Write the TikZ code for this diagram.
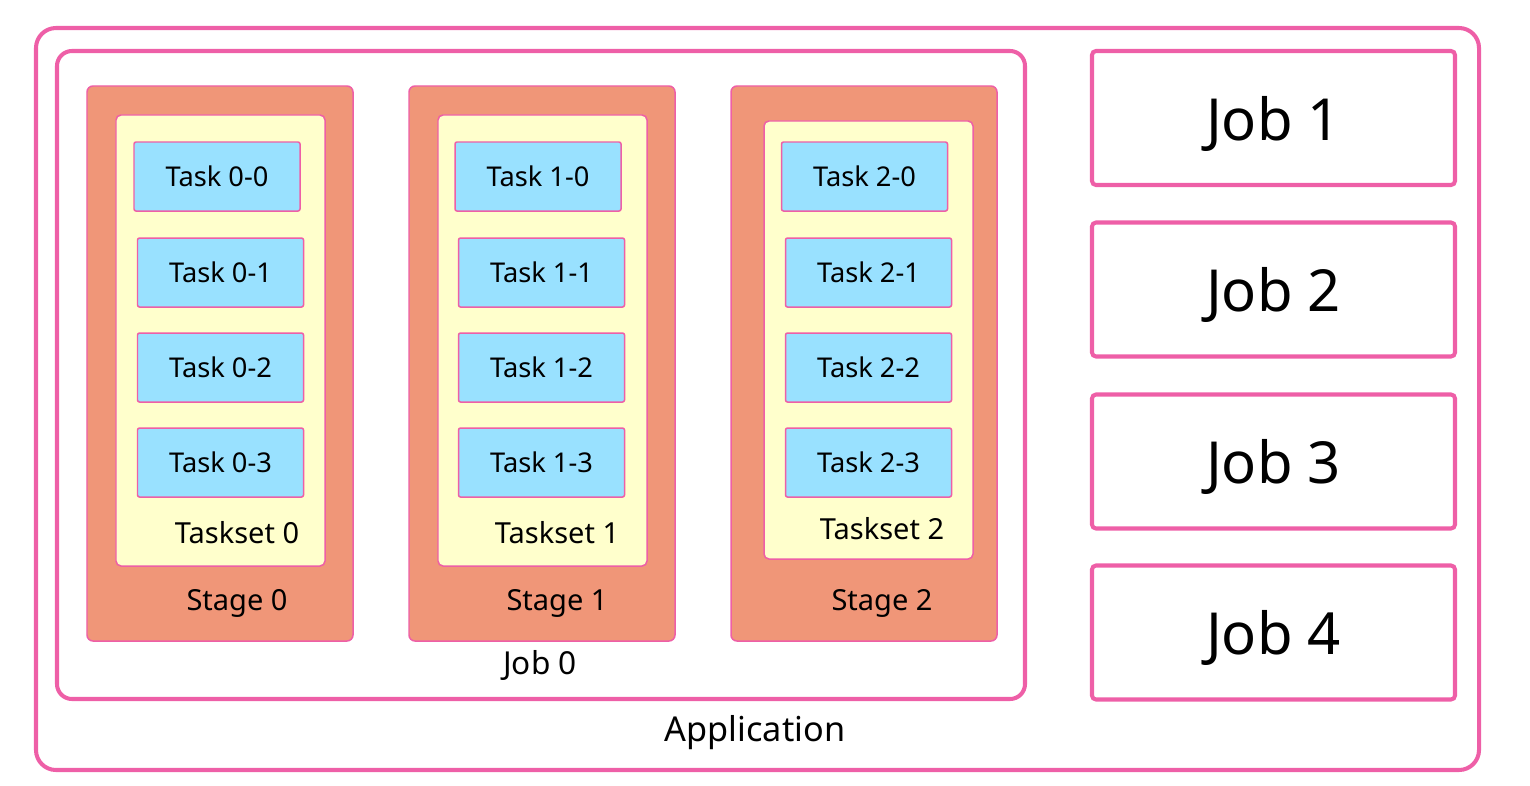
\documentclass[tikz,border=0pt]{standalone}
\usepackage{fontspec}
\setmainfont{Noto Sans}
\usepackage{xcolor}

\definecolor{rimpink}{HTML}{EE5FA7}
\definecolor{stagefill}{HTML}{F09678}
\definecolor{tasksetfill}{HTML}{FFFFCC}
\definecolor{taskfill}{HTML}{99E1FF}

\begin{document}
\begin{tikzpicture}[x=0.2mm, y=-0.2mm]
        % Box style definitions
        \tikzset{
            appbox/.style={draw=rimpink, line width=2.3pt, rounded corners=4mm, minimum width=288.6mm, minimum height=148.4mm, inner sep=0pt},
            jobzero/.style={draw=rimpink, line width=2.3pt, rounded corners=3mm, minimum width=193.6mm, minimum height=129.6mm, inner sep=0pt},
            jobbox/.style={draw=rimpink, line width=2.3pt, rounded corners=0.8mm, minimum width=72.6mm, minimum height=26.8mm, inner sep=0pt, text depth=0pt, font=\fontsize{33}{38}\selectfont},
            stagebox/.style={draw=rimpink, fill=stagefill, line width=0.85pt, rounded corners=1.2mm, minimum width=53.2mm, minimum height=111mm, inner sep=0pt},
            tasksetbox/.style={draw=rimpink, fill=tasksetfill, line width=0.85pt, rounded corners=1mm, minimum width=41.8mm, inner sep=0pt},
            taskbox/.style={draw=rimpink, fill=taskfill, line width=0.85pt, rounded corners=0.4mm, minimum width=33.2mm, minimum height=13.8mm, inner sep=0pt, font=\fontsize{15.5}{18}\selectfont},
            midlabel/.style={inner sep=0pt, font=\fontsize{16.5}{20}\selectfont},
            biglabel/.style={inner sep=0pt, font=\fontsize{19.5}{23}\selectfont}
        }

        \useasboundingbox (0,0) rectangle (1530,786);

        % ==========================================
        % APPLICATION AND JOB 0
        % ==========================================

        \node[appbox] (app) at (757.5,399) {};
        \node[biglabel] (applabel) at (755,733) {Application};

        \node[jobzero] (job0) at (541,375) {};
        \node[midlabel, font=\fontsize{18}{22}\selectfont] (job0label) at (540,665) {Job 0};

        % ==========================================
        % STAGES, TASKSETS AND TASKS
        % ==========================================

        \foreach \s/\cx/\tsx/\tsy/\tsh/\fx/\ox/\lx/\ly in {0/220/220.5/340.5/90.2mm/217/220.5/237/533,
                1/542/542.5/340.5/90.2mm/538/541.5/557/533,
                2/864/868.5/340/87.6mm/864.5/868.5/882/529}{
            \node[stagebox] (stage\s) at (\cx,363.5) {};
            \node[tasksetbox, minimum height=\tsh] (taskset\s) at (\tsx,\tsy) {};
            \node[taskbox] (task\s-0) at (\fx,176.5) {Task \s-0};
            \foreach \t/\ty in {1/272.5, 2/367.5, 3/462.5}
                \node[taskbox] (task\s-\t) at (\ox,\ty) {Task \s-\t};
            \node[midlabel] (tasksetlabel\s) at (\lx,\ly) {Taskset \s};
            \node[midlabel] (stagelabel\s) at (\lx,603) {Stage \s};
        }

        % ==========================================
        % OTHER JOBS
        % ==========================================

        \foreach \j/\jy in {1/118, 2/289.5, 3/461.5, 4/632.5}
            \node[jobbox] (job\j) at (1273.5,\jy) {Job \j};
    \end{tikzpicture}
\end{document}
